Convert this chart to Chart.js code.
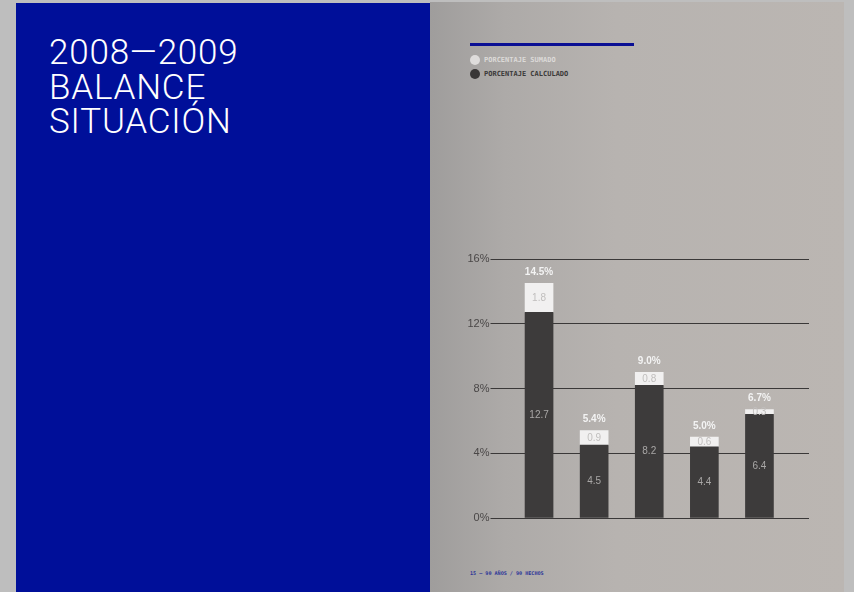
<!DOCTYPE html>
<html>
<head>
  <title>2008-2009 Balance situación</title>
  <script src="https://cdn.jsdelivr.net/npm/chart.js@4.4.0/dist/chart.umd.min.js"></script>
  <style>
    body { margin: 0; width: 854px; height: 592px; background: #bebebe; position: relative; overflow: hidden; }
    #blue { position: absolute; left: 16px; top: 3px; width: 414px; height: 589px; background: #000f99; }
    #title { position: absolute; left: 49px; top: 36px; color: #fff; font-family: Roboto, "Liberation Sans", sans-serif;
      font-weight: 300; font-size: 35px; line-height: 34.5px; letter-spacing: 0.8px; }
    #grey { position: absolute; left: 430px; top: 2px; width: 414px; height: 590px;
      background: linear-gradient(90deg, #9f9d9c 0%, #adaaa8 18%, #b7b3b0 45%, #bbb6b2 100%); }
    #rule { position: absolute; left: 470px; top: 43px; width: 164px; height: 3px; background: #0a0f94; }
    .leg { position: absolute; left: 470px; font-family: "DejaVu Sans Mono", monospace; font-size: 7px; line-height: 10px; font-weight: bold; }
    .leg span { display: inline-block; width: 10px; height: 10px; border-radius: 50%; vertical-align: middle; margin-right: 4px; }
    #foot { position: absolute; left: 470px; top: 570px; color: #2d3598; font-family: "DejaVu Sans Mono", monospace;
      font-size: 5.1px; font-weight: bold; }
    #chart { position: absolute; left: 440px; top: 240px; }
  </style>
</head>
<body>
  <div id="blue"></div>
  <div id="title">2008—2009<br>BALANCE<br>SITUACIÓN</div>
  <div id="grey"></div>
  <div id="rule"></div>
  <div class="leg" style="top:55px;color:#dcdad8"><span style="background:#dedcdb"></span>PORCENTAJE SUMADO</div>
  <div class="leg" style="top:69px;color:#3b3939"><span style="background:#383636"></span>PORCENTAJE CALCULADO</div>
  <div id="foot">15 – 90 AÑOS / 90 HECHOS</div>
  <canvas id="chart" width="400" height="300"></canvas>

<script>
// data
var categories = ['1', '2', '3', '4', '5'];
var calculado = [12.7, 4.5, 8.2, 4.4, 6.4];
var sumado = [1.8, 0.9, 0.8, 0.6, 0.3];
var totales = [14.5, 5.4, 9.0, 5.0, 6.7];
var yTicks = [0, 4, 8, 12, 16];

var lineColor = '#3a3838';

// value labels inside the bars and totals above them
var barLabels = {
  id: 'barLabels',
  afterDatasetsDraw: function(chart) {
    var ctx = chart.ctx;
    ctx.save();
    ctx.textAlign = 'center';
    ctx.textBaseline = 'middle';
    ctx.font = '10px "Liberation Sans", Arial, sans-serif';
    chart.data.datasets.forEach(function(ds, i) {
      var meta = chart.getDatasetMeta(i);
      meta.data.forEach(function(bar, j) {
        ctx.fillStyle = i === 0 ? '#a9a7a6' : '#c0bebd';
        ctx.fillText(ds.data[j].toFixed(1), bar.x, (bar.y + bar.base) / 2);
      });
    });
    var top = chart.getDatasetMeta(1);
    ctx.font = 'bold 10px "Liberation Sans", Arial, sans-serif';
    ctx.fillStyle = '#f3f3f3';
    top.data.forEach(function(bar, j) {
      ctx.fillText(totales[j].toFixed(1) + '%', bar.x, bar.y - 11);
    });
    ctx.restore();
  }
};

var chartCanvas = document.getElementById('chart').getContext('2d');
new Chart(chartCanvas, {
  type: 'bar',
  data: {
    labels: categories,
    datasets: [{
      label: 'Porcentaje calculado',
      data: calculado,
      backgroundColor: '#3d3b3b',
      barThickness: 28
    }, {
      label: 'Porcentaje sumado',
      data: sumado,
      backgroundColor: '#f1f0f0',
      barThickness: 28
    }]
  },
  options: {
    responsive: false,
    animation: false,
    layout: { padding: { top: 19, bottom: 22, right: 32, left: 0 } },
    plugins: { legend: { display: false }, tooltip: { enabled: false } },
    scales: {
      x: { display: false, stacked: true },
      y: {
        stacked: true,
        min: 0, max: 16,
        afterBuildTicks: function(s) { s.ticks = yTicks.map(function(v) { return { value: v }; }); },
        afterFit: function(s) { s.width = 71.5; },
        border: { display: false },
        grid: { color: lineColor, lineWidth: 1, tickLength: 21, drawTicks: true },
        ticks: {
          padding: 1,
          color: '#4a4747',
          font: { family: '"Liberation Sans", Arial, sans-serif', size: 11 },
          callback: function(v) { return v + '%'; }
        }
      },
      y2: {
        position: 'right',
        min: 0, max: 16,
        afterBuildTicks: function(s) { s.ticks = yTicks.map(function(v) { return { value: v }; }); },
        afterFit: function(s) { s.width = 21; },
        border: { display: false },
        grid: { color: lineColor, lineWidth: 1, tickLength: 22, drawOnChartArea: false },
        ticks: { padding: 0, callback: function() { return ''; } }
      }
    }
  },
  plugins: [barLabels]
});
</script>
</body>
</html>
